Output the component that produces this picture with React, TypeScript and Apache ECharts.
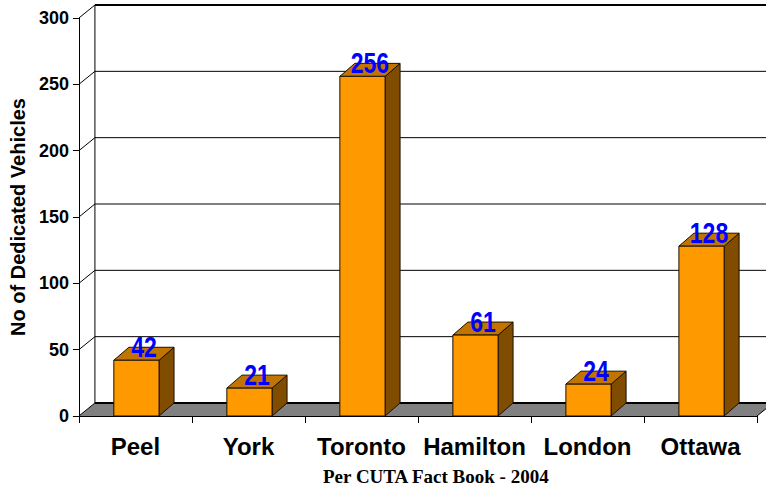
import { useEffect, useRef } from 'react';
import * as echarts from 'echarts';

const categories = ['Peel', 'York', 'Toronto', 'Hamilton', 'London', 'Ottawa'];
const vehicles = [42, 21, 256, 61, 24, 128];
const yTicks = [0, 50, 100, 150, 200, 250, 300];
const yTitle = 'No of Dedicated Vehicles';
const footnote = 'Per CUTA Fact Book - 2004';

const WALL_DX = 16;
const WALL_DY = -13;
const BAR_DX = 15;
const BAR_DY = -13;
const SANS = '"Liberation Sans", Arial, sans-serif';

export default function App() {
  const ref = useRef<HTMLDivElement>(null);

  useEffect(() => {
    document.body.style.margin = '0';
    const chart = echarts.init(ref.current!, null, { renderer: 'svg' });

    const frameRender = (params: any, api: any) => {
      const w = api.size([1, 0])[0];
      const L = api.coord([0, 0])[0] - w / 2;
      const R = api.coord([categories.length - 1, 0])[0] + w / 2;
      const y0 = api.coord([0, 0])[1];
      const children: any[] = [];
      children.push({
        type: 'polygon',
        shape: { points: [[L, y0], [R, y0], [R + WALL_DX, y0 + WALL_DY], [L + WALL_DX, y0 + WALL_DY]] },
        style: { fill: '#808080', stroke: null },
      });
      const yTop = api.coord([0, yTicks[yTicks.length - 1]])[1];
      yTicks.forEach((v) => {
        const yf = api.coord([0, v])[1];
        const isEdge = v === 0 || v === yTicks[yTicks.length - 1];
        children.push({
          type: 'line',
          shape: { x1: L + WALL_DX, y1: yf + WALL_DY, x2: R + WALL_DX + 20, y2: yf + WALL_DY },
          style: { stroke: '#000', lineWidth: isEdge ? 2 : 1 },
        });
        children.push({
          type: 'line',
          shape: { x1: L, y1: yf, x2: L + WALL_DX, y2: yf + WALL_DY },
          style: { stroke: '#000', lineWidth: 1 },
        });
      });
      children.push({
        type: 'line',
        shape: { x1: L + WALL_DX, y1: y0 + WALL_DY, x2: L + WALL_DX, y2: yTop + WALL_DY },
        style: { stroke: '#000', lineWidth: 1 },
      });
      children.push({
        type: 'line',
        shape: { x1: R, y1: y0, x2: R + WALL_DX, y2: y0 + WALL_DY },
        style: { stroke: '#000', lineWidth: 1 },
      });
      return { type: 'group', children };
    };

    const barRender = (params: any, api: any) => {
      const i = api.value(0);
      const v = api.value(1);
      const [cx, yt] = api.coord([i, v]);
      const yb = api.coord([i, 0])[1];
      const w = api.size([1, 0])[0] * 0.4;
      const xl = cx - w / 2 + 1;
      const xr = xl + w;
      const edge = { stroke: '#1a1000', lineWidth: 1 };
      return {
        type: 'group',
        children: [
          {
            type: 'polygon',
            shape: { points: [[xr, yb], [xr + BAR_DX, yb + BAR_DY], [xr + BAR_DX, yt + BAR_DY], [xr, yt]] },
            style: { fill: '#7F4C00', ...edge },
          },
          {
            type: 'polygon',
            shape: { points: [[xl, yt], [xr, yt], [xr + BAR_DX, yt + BAR_DY], [xl + BAR_DX, yt + BAR_DY]] },
            style: { fill: '#C27400', ...edge },
          },
          {
            type: 'polygon',
            shape: { points: [[xl, yb], [xr, yb], [xr, yt], [xl, yt]] },
            style: { fill: '#FF9900', ...edge },
          },
          {
            type: 'text',
            x: (xl + xr) / 2 + BAR_DX / 2,
            y: yt - 13.5,
            scaleY: 1.27,
            style: {
              text: String(v),
              fill: '#0000FF',
              fontSize: 23,
              fontWeight: 'bold',
              fontFamily: SANS,
              align: 'center',
              verticalAlign: 'middle',
            },
          },
        ],
      };
    };

    chart.setOption({
      animation: false,
      title: {
        text: footnote,
        left: 323,
        top: 467,
        padding: 0,
        textStyle: { fontFamily: '"Liberation Serif", "Times New Roman", serif', fontWeight: 'bold', fontSize: 19, color: '#000' },
      },
      grid: { left: 77, right: 9, top: 18, bottom: 71 },
      xAxis: {
        type: 'category',
        data: categories,
        boundaryGap: true,
        z: 10,
        axisLine: { show: true, lineStyle: { color: '#000', width: 1 } },
        axisTick: { show: true, length: 7, interval: 0, alignWithLabel: false, lineStyle: { color: '#000' } },
        axisLabel: { fontSize: 24, fontWeight: 'bold', color: '#000', fontFamily: SANS, margin: 18, interval: 0 },
        splitLine: { show: false },
      },
      yAxis: {
        type: 'value',
        min: 0,
        max: 300,
        interval: 50,
        z: 10,
        axisLine: { show: true, lineStyle: { color: '#000', width: 1 } },
        axisTick: { show: true, length: 6, lineStyle: { color: '#000' } },
        axisLabel: { fontSize: 18, fontWeight: 'bold', color: '#000', fontFamily: SANS, margin: 10 },
        splitLine: { show: false },
        name: yTitle,
        nameLocation: 'middle',
        nameGap: 50,
        nameRotate: 90,
        nameTextStyle: { fontSize: 20, fontWeight: 'bold', color: '#000', fontFamily: SANS },
      },
      series: [
        {
          type: 'custom',
          name: 'frame',
          clip: false,
          silent: true,
          renderItem: frameRender,
          data: [[0, 0]],
          encode: { x: 0, y: 1 },
        },
        {
          type: 'custom',
          name: 'Dedicated Vehicles',
          clip: false,
          renderItem: barRender,
          data: vehicles.map((v, i) => [i, v]),
          encode: { x: 0, y: 1 },
        },
      ],
    });

    return () => chart.dispose();
  }, []);

  return <div ref={ref} style={{ width: 766, height: 487 }} />;
}
